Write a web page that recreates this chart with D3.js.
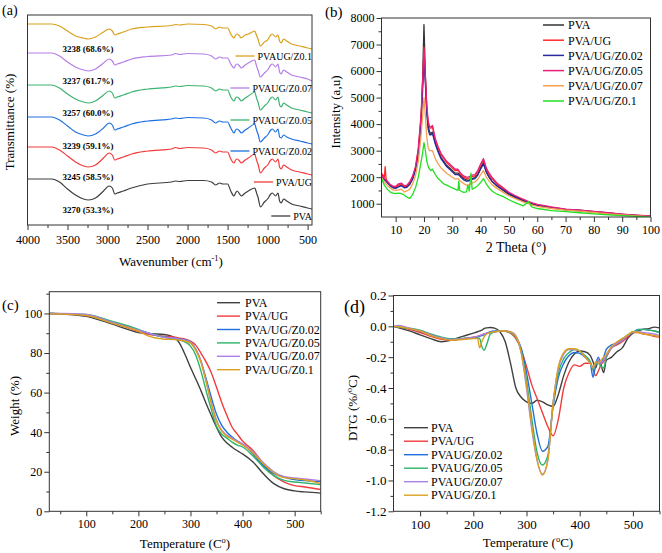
<!DOCTYPE html>
<html><head><meta charset="utf-8">
<script src="https://cdn.jsdelivr.net/npm/d3@7"></script>
<style>
body{margin:0;background:#fff;}
svg text{font-family:"Liberation Serif","Times New Roman",serif;}
</style></head><body>
<svg id="c" width="662" height="553" xmlns="http://www.w3.org/2000/svg"></svg>
<script>
// ---------- Panel (a): FTIR ----------
const ftirNames = ["PVA", "PVA/UG", "PVAUG/Z0.02", "PVAUG/Z0.05", "PVAUG/Z0.07", "PVAUG/Z0.1"];
const ftirPeakLabels = ["3270 (53.3%)", "3245 (58.5%)", "3239 (59.1%)", "3257 (60.0%)", "3237 (61.7%)", "3238 (68.6%)"];
const ftirOffsets = [46, 78, 108, 140, 172, 201];
const waveA = [4000, 3700, 3600, 3500, 3400, 3300, 3240, 3150, 3050, 2980, 2940, 2910, 2880, 2800, 2700, 2500, 2200, 2150, 2100, 2000, 1800, 1700, 1650, 1600, 1560, 1500, 1460, 1420, 1400, 1380, 1350, 1330, 1280, 1240, 1160, 1145, 1130, 1120, 1090, 1040, 1000, 960, 940, 900, 870, 850, 830, 800, 760, 700, 600, 500, 445];
const ftirPVA = [0, 0, -3, -10, -16, -20, -21, -19, -12, -7, -9, -15, -14, -12, -9, -5, -3, -2, -2.5, -1.5, -1.5, -3, -6, -4, -5, -5, -12, -17, -14, -12, -15, -17, -14, -12, -9, -12, -16, -18, -28, -23, -20, -15, -14, -17, -14, -22, -24, -20, -22, -25, -27, -29, -30];
const ftirUG = [0, 0, -3, -9, -15, -19, -20, -18, -11, -6, -8, -13, -12, -10, -7, -4, -2, -0.5, -1.5, -0.5, -1, -3, -6, -4, -5, -5, -12, -16, -13, -12, -14, -16, -13, -11, -7, -11, -15, -17, -26, -21, -18, -13, -12, -15, -12, -20, -22, -18, -20, -23, -25, -27, -28];
const ftirZ002 = [0, 0, -3, -9, -15, -18, -19, -17, -11, -6, -8, -13, -12, -10, -7, -4, -2, -1, -1.5, -0.5, -1, -3, -6, -4, -5, -5, -11, -16, -13, -12, -14, -16, -13, -11, -7, -11, -15, -17, -25, -21, -18, -13, -12, -15, -12, -20, -21, -18, -20, -22, -24, -26, -27];
const ftirZ005 = [0, 0, -3, -9, -14, -17, -18, -16, -10, -6, -8, -13, -12, -10, -7, -4, -2, -1, -1.5, -0.5, -1, -3, -6, -4, -5, -5, -12, -16, -13, -12, -14, -16, -13, -11, -7, -11, -15, -17, -25, -21, -18, -13, -12, -15, -12, -20, -22, -18, -20, -23, -25, -27, -28];
const ftirZ007 = [0, 0, -3, -9, -14, -17, -18, -16, -10, -6, -8, -12, -11, -9, -6, -3.5, -2, -0.5, -1.5, -0.5, -1, -3, -6, -4, -5, -5, -11, -15, -12, -11, -13, -15, -12, -10, -7, -11, -15, -17, -24, -20, -17, -12, -11, -14, -11, -19, -21, -17, -19, -22, -24, -26, -28];
const ftirZ01 = [0, 0, -2, -7, -12, -14, -15, -13, -8, -5, -7, -11, -10, -8, -5, -3, -1.5, -0.5, -1, 0, -0.5, -2, -5, -3, -4, -4, -10, -14, -11, -10, -12, -14, -11, -10, -7, -10, -13, -15, -22, -18, -16, -11, -10, -13, -11, -17, -19, -15, -17, -20, -22, -24, -25];
const ftirTicks = [4000, 3500, 3000, 2500, 2000, 1500, 1000, 500];

// ---------- Panel (b): XRD ----------
const xrdNames = ["PVA", "PVA/UG", "PVA/UG/Z0.02", "PVA/UG/Z0.05", "PVA/UG/Z0.07", "PVA/UG/Z0.1"];
const theta = [5, 6, 6.3, 6.6, 7, 8, 9, 10, 11, 12, 13, 14, 15, 16, 17, 18, 19, 19.5, 20, 20.5, 21, 21.5, 22, 22.5, 23, 23.5, 24, 25, 26, 27, 28, 30, 31, 32, 32.3, 32.6, 33, 34, 35, 35.5, 36, 36.6, 37, 38, 39, 40, 41, 42, 43, 44, 46, 48, 50, 52, 55, 57, 58, 60, 65, 70, 75, 80, 85, 90, 95, 100];
const xrdPVA = [2100, 1950, 1900, 1880, 1820, 1700, 1620, 1600, 1650, 1700, 1620, 1650, 1750, 1950, 2300, 2900, 4200, 5600, 7750, 5800, 4500, 3900, 3700, 3650, 3700, 3500, 3300, 3000, 2750, 2600, 2450, 2250, 2150, 2150, 2120, 2080, 2050, 1950, 1900, 1880, 1900, 1920, 1950, 1980, 2100, 2350, 2550, 2200, 2000, 1850, 1650, 1500, 1350, 1250, 1100, 1020, 990, 930, 840, 770, 730, 680, 630, 590, 550, 520];
const xrdUG = [2150, 2000, 2400, 1950, 1850, 1720, 1650, 1630, 1700, 1750, 1650, 1680, 1800, 2000, 2350, 3000, 4300, 5500, 6900, 5700, 4600, 4000, 3850, 3850, 3900, 3650, 3400, 3100, 2850, 2700, 2550, 2350, 2250, 2250, 2220, 2150, 2100, 2000, 1950, 1950, 1970, 2000, 2020, 2050, 2200, 2450, 2650, 2300, 2100, 1950, 1720, 1560, 1400, 1300, 1150, 1060, 1020, 960, 860, 790, 750, 700, 650, 600, 560, 530];
const xrdZ002 = [2050, 1900, 1870, 1850, 1800, 1680, 1600, 1580, 1630, 1680, 1600, 1620, 1730, 1930, 2280, 2900, 4100, 5200, 6500, 5500, 4400, 3800, 3600, 3600, 3650, 3450, 3250, 2950, 2700, 2550, 2400, 2200, 2100, 2100, 2080, 2050, 2000, 1900, 1850, 1850, 1870, 1900, 1920, 1950, 2080, 2300, 2500, 2200, 2000, 1850, 1660, 1520, 1380, 1280, 1130, 1050, 1010, 950, 860, 790, 760, 700, 650, 600, 560, 530];
const xrdZ005 = [2100, 1950, 1920, 1900, 1850, 1730, 1660, 1650, 1750, 1780, 1680, 1700, 1830, 2050, 2400, 3100, 4400, 5600, 6800, 5800, 4700, 4100, 3900, 3900, 3950, 3700, 3450, 3150, 2900, 2750, 2600, 2400, 2300, 2300, 2250, 2200, 2150, 2050, 2000, 2000, 2020, 2050, 2080, 2100, 2250, 2500, 2700, 2350, 2150, 2000, 1760, 1600, 1430, 1320, 1170, 1080, 1040, 980, 880, 800, 760, 710, 660, 610, 570, 540];
const xrdZ007 = [2000, 1800, 1780, 1750, 1700, 1600, 1520, 1500, 1520, 1550, 1450, 1480, 1550, 1750, 2050, 2600, 3600, 4300, 5000, 4300, 3500, 3100, 3000, 3000, 3000, 2850, 2700, 2500, 2350, 2250, 2150, 2000, 1930, 1950, 1920, 1880, 1850, 1760, 1700, 1700, 1720, 1750, 1780, 1820, 1920, 2100, 2250, 2000, 1850, 1720, 1560, 1430, 1300, 1200, 1070, 1000, 960, 900, 820, 760, 720, 670, 620, 580, 540, 510];
const xrdZ01 = [1950, 1700, 1650, 1620, 1550, 1450, 1400, 1380, 1400, 1380, 1330, 1250, 1200, 1350, 1600, 2000, 2600, 2900, 3300, 3000, 2600, 2400, 2300, 2250, 2300, 2200, 2100, 1950, 1850, 1750, 1700, 1600, 1550, 1500, 1850, 1500, 1480, 1430, 1450, 1700, 1480, 2150, 1550, 1600, 1680, 1800, 1950, 1750, 1600, 1480, 1350, 1270, 1150, 1050, 920, 1080, 880, 820, 740, 700, 660, 620, 580, 550, 520, 500];
const xrdXTicks = [10, 20, 30, 40, 50, 60, 70, 80, 90, 100];
const xrdYTicks = [1000, 2000, 3000, 4000, 5000, 6000, 7000, 8000];

// ---------- Panel (c): TGA ----------
const tgaNames = ["PVA", "PVA/UG", "PVA/UG/Z0.02", "PVA/UG/Z0.05", "PVA/UG/Z0.07", "PVA/UG/Z0.1"];
const tgaT = [30, 50, 100, 150, 200, 220, 250, 270, 280, 290, 300, 310, 320, 330, 340, 350, 360, 370, 380, 390, 400, 420, 440, 460, 480, 500, 520, 550];
const tgaPVA = [100, 99.8, 98.5, 94.6, 90.4, 89.8, 89.4, 87.8, 84.5, 79, 72.8, 67, 61, 54.5, 48.4, 42.5, 37.5, 34.5, 32.4, 30.6, 29, 24.9, 19, 14, 11.4, 10.3, 9.8, 9.2];
const tgaUG = [100, 99.9, 99, 95.5, 91, 89.5, 88.5, 88, 87.5, 87, 86, 84, 80, 75.5, 70, 62.7, 55, 48.4, 42.5, 39, 35.5, 30.8, 24, 18, 14.8, 13, 12.3, 11];
const tgaZ002 = [100, 99.9, 99, 95.5, 91.5, 90, 88, 87.5, 87, 86.8, 85.5, 82, 76, 67, 57.6, 49, 43.4, 40, 37.5, 35.5, 34, 29, 23, 19, 17.3, 16, 15.5, 15];
const tgaZ005 = [100, 99.9, 99.5, 96, 92, 90, 88, 87, 86.5, 85.5, 83.5, 79, 71, 61, 51.5, 43, 39, 37, 35, 33.5, 32.5, 28, 22.3, 18, 15.6, 14.8, 14.3, 13.5];
const tgaZ007 = [100, 100, 99.5, 95.5, 91.5, 90, 88, 87.5, 87, 86.5, 85.5, 82, 76, 66, 55, 46, 41, 38.5, 37, 35.5, 34, 30, 24.5, 20, 17.5, 16.8, 16.3, 15.5];
const tgaZ01 = [99.8, 99.7, 99, 95, 91, 88.5, 87, 86.8, 86.5, 86, 85, 81.5, 75.5, 65.5, 54.5, 45.5, 40.5, 38, 36.5, 35, 33.5, 29.5, 24, 19.5, 17, 16.5, 15.8, 14];
const tgaXTicks = [100, 200, 300, 400, 500];
const tgaYTicks = [0, 20, 40, 60, 80, 100];

// ---------- Panel (d): DTG ----------
const dtgNames = ["PVA", "PVA/UG", "PVAUG/Z0.02", "PVAUG/Z0.05", "PVAUG/Z0.07", "PVAUG/Z0.1"];
const dtgT = [50, 60, 80, 100, 120, 140, 160, 180, 200, 208, 212, 216, 220, 225, 232, 240, 250, 260, 270, 280, 290, 300, 310, 320, 330, 340, 350, 360, 370, 380, 390, 400, 410, 420, 425, 430, 435, 440, 445, 450, 460, 470, 480, 490, 500, 510, 520, 530, 540, 550];
const dtgPVA = [0, -0.01, -0.03, -0.055, -0.08, -0.1, -0.088, -0.065, -0.044, -0.035, -0.03, -0.025, -0.015, -0.01, -0.008, -0.012, -0.035, -0.1, -0.24, -0.4, -0.46, -0.49, -0.5, -0.48, -0.49, -0.51, -0.52, -0.44, -0.32, -0.23, -0.18, -0.16, -0.165, -0.19, -0.23, -0.27, -0.22, -0.25, -0.3, -0.22, -0.2, -0.165, -0.14, -0.08, -0.044, -0.03, -0.018, -0.015, -0.005, -0.01];
const dtgUG = [0, -0.005, -0.02, -0.04, -0.065, -0.085, -0.09, -0.08, -0.07, -0.065, -0.06, -0.055, -0.05, -0.045, -0.04, -0.035, -0.03, -0.032, -0.045, -0.08, -0.15, -0.26, -0.38, -0.47, -0.56, -0.65, -0.71, -0.6, -0.4, -0.3, -0.25, -0.26, -0.24, -0.24, -0.28, -0.32, -0.29, -0.25, -0.23, -0.2, -0.14, -0.12, -0.1, -0.07, -0.04, -0.04, -0.05, -0.055, -0.065, -0.07];
const dtgZ002 = [0, -0.005, -0.015, -0.03, -0.055, -0.075, -0.085, -0.08, -0.075, -0.07, -0.065, -0.06, -0.055, -0.045, -0.035, -0.03, -0.028, -0.03, -0.04, -0.07, -0.14, -0.3, -0.5, -0.7, -0.81, -0.78, -0.52, -0.33, -0.24, -0.19, -0.17, -0.175, -0.2, -0.24, -0.33, -0.25, -0.2, -0.24, -0.2, -0.15, -0.12, -0.11, -0.09, -0.06, -0.04, -0.02, -0.02, -0.025, -0.03, -0.04];
const dtgZ005 = [0, -0.005, -0.012, -0.025, -0.05, -0.07, -0.08, -0.078, -0.075, -0.075, -0.08, -0.13, -0.155, -0.12, -0.05, -0.035, -0.03, -0.033, -0.04, -0.07, -0.16, -0.35, -0.6, -0.82, -0.9, -0.84, -0.5, -0.3, -0.21, -0.17, -0.15, -0.16, -0.19, -0.23, -0.28, -0.25, -0.24, -0.26, -0.27, -0.2, -0.14, -0.11, -0.08, -0.06, -0.04, -0.022, -0.02, -0.025, -0.03, -0.04];
const dtgZ007 = [0, 0.005, -0.012, -0.03, -0.055, -0.075, -0.085, -0.08, -0.07, -0.065, -0.06, -0.055, -0.05, -0.045, -0.04, -0.035, -0.03, -0.03, -0.035, -0.06, -0.17, -0.4, -0.67, -0.87, -0.96, -0.87, -0.5, -0.27, -0.18, -0.15, -0.15, -0.16, -0.2, -0.24, -0.27, -0.24, -0.22, -0.24, -0.22, -0.19, -0.14, -0.11, -0.09, -0.06, -0.035, -0.035, -0.04, -0.045, -0.05, -0.06];
const dtgZ01 = [0, -0.003, -0.015, -0.03, -0.06, -0.08, -0.09, -0.085, -0.08, -0.078, -0.14, -0.1, -0.07, -0.05, -0.04, -0.035, -0.03, -0.03, -0.038, -0.065, -0.17, -0.38, -0.65, -0.87, -0.965, -0.87, -0.5, -0.26, -0.17, -0.145, -0.145, -0.16, -0.2, -0.24, -0.27, -0.23, -0.24, -0.22, -0.2, -0.18, -0.13, -0.1, -0.08, -0.055, -0.035, -0.04, -0.05, -0.055, -0.06, -0.065];
const dtgXTicks = [100, 200, 300, 400, 500];
const dtgYTicks = [-1.2, -1.0, -0.8, -0.6, -0.4, -0.2, 0.0, 0.2];

// ---------- colours ----------
const colA = ["#3e3e3e", "#f23c3c", "#1e6fe0", "#3cb371", "#b57ee6", "#d8a21c"];
const colB = ["#333333", "#ff2a2a", "#2a2a9a", "#e8207a", "#f5a050", "#22e022"];
const colC = ["#404040", "#f03c3c", "#1f6fdc", "#2db36a", "#b07fe6", "#daa01e"];

const FONT = "Liberation Serif";
const svg = d3.select("#c");

function addAxis(g, scale, orient, pos, major, minor, fmt, fs, pad) {
  const mk = orient === "bottom" ? d3.axisBottom : d3.axisLeft;
  const tr = orient === "bottom" ? `translate(0,${pos})` : `translate(${pos},0)`;
  const a = g.append("g").attr("transform", tr)
    .call(mk(scale).tickValues(major).tickSize(5).tickSizeOuter(0).tickPadding(pad).tickFormat(fmt));
  a.attr("font-family", null).attr("font-size", null);
  a.select(".domain").remove();
  a.selectAll("text").style("font-family", FONT).style("font-size", fs + "px").attr("fill", "#000");
  a.selectAll("line").attr("stroke", "#333");
  if (minor) {
    const b = g.append("g").attr("transform", tr)
      .call(mk(scale).tickValues(minor).tickSize(3).tickSizeOuter(0).tickFormat(() => ""));
    b.select(".domain").remove();
    b.selectAll("line").attr("stroke", "#333");
  }
}
function frame(g, x, y, id) {
  const [x0, x1] = x.range(), [y1, y0] = y.range();
  g.append("clipPath").attr("id", id).append("rect")
    .attr("x", Math.min(x0, x1)).attr("y", y0).attr("width", Math.abs(x1 - x0)).attr("height", y1 - y0);
  return () => g.append("rect").attr("x", Math.min(x0, x1)).attr("y", y0)
    .attr("width", Math.abs(x1 - x0)).attr("height", y1 - y0)
    .attr("fill", "none").attr("stroke", "#333").attr("stroke-width", 1);
}
function txt(g, x, y, s, fs, anchor, extra) {
  const t = g.append("text").attr("x", x).attr("y", y).style("font-family", FONT)
    .style("font-size", fs + "px").attr("text-anchor", anchor || "start").attr("fill", "#000").text(s);
  if (extra) extra(t);
  return t;
}
function supText(g, x, y, parts, fs, rotate) {
  const t = g.append("text").style("font-family", FONT).style("font-size", fs + "px")
    .attr("text-anchor", "middle").attr("fill", "#000");
  if (rotate) t.attr("transform", `translate(${x},${y}) rotate(-90)`);
  else t.attr("x", x).attr("y", y);
  parts.forEach(p => {
    const s = t.append("tspan").text(p[0]);
    if (p[1]) s.style("font-size", (fs * 0.65) + "px").attr("dy", -fs * 0.4);
    else if (p[2]) s.attr("dy", fs * 0.4);
  });
  return t;
}

// ================= Panel (a) =================
{
  const g = svg.append("g");
  const x = d3.scaleLinear().domain([4000, 445]).range([27.5, 312]);
  const y = d3.scaleLinear().domain([0, 210]).range([225, 15]);
  const drawFrame = frame(g, x, y, "clipA");
  const series = [ftirPVA, ftirUG, ftirZ002, ftirZ005, ftirZ007, ftirZ01];
  const line = d3.line().curve(d3.curveMonotoneX);
  series.forEach((s, i) => {
    const pts = waveA.map((w, k) => [x(w), y(ftirOffsets[i] + s[k])]);
    g.append("path").attr("d", line(pts)).attr("fill", "none").attr("stroke", colA[i])
      .attr("stroke-width", 1.2).attr("clip-path", "url(#clipA)");
    txt(g, x(3245), y(ftirOffsets[i] + s[6]) + 13, ftirPeakLabels[i], 9, "middle", t => t.attr("font-weight", "bold"));
    const ly = y(ftirOffsets[i] + s[s.length - 1]) + 7;
    const tt = txt(g, 312, ly + 3.5, ftirNames[i], 10, "end");
    const w = tt.node().getComputedTextLength();
    g.append("line").attr("x1", 312 - w - 22).attr("x2", 312 - w - 3).attr("y1", ly).attr("y2", ly)
      .attr("stroke", colA[i]).attr("stroke-width", 1.3);
  });
  drawFrame();
  addAxis(g, x, "bottom", 225, ftirTicks, [3750, 3250, 2750, 2250, 1750, 1250, 750], d => d, 12, 5);
  supText(g, 171, 266, [["Wavenumber (cm"], ["-1", true], [")", false, true]], 13);
  supText(g, 14, 122, [["Transmittance (%)"]], 13, true);
  txt(g, 2, 15, "(a)", 14);
}

// ================= Panel (b) =================
{
  const g = svg.append("g");
  const x = d3.scaleLinear().domain([5, 100]).range([381.5, 650.5]);
  const y = d3.scaleLinear().domain([500, 8000]).range([217, 18]);
  const drawFrame = frame(g, x, y, "clipB");
  const series = [xrdPVA, xrdUG, xrdZ002, xrdZ005, xrdZ007, xrdZ01];
  const line = d3.line();
  series.forEach((s, i) => {
    const pts = theta.map((t, k) => [x(t), y(s[k])]);
    g.append("path").attr("d", line(pts)).attr("fill", "none").attr("stroke", colB[i])
      .attr("stroke-width", 1.3).attr("stroke-linejoin", "round").attr("clip-path", "url(#clipB)");
    const ly = 25 + i * 15.2;
    g.append("line").attr("x1", 543).attr("x2", 564).attr("y1", ly).attr("y2", ly)
      .attr("stroke", colB[i]).attr("stroke-width", 1.5);
    txt(g, 568, ly + 4.3, xrdNames[i], 12);
  });
  drawFrame();
  addAxis(g, x, "bottom", 217, xrdXTicks, [15, 25, 35, 45, 55, 65, 75, 85, 95], d => d, 12, 3);
  addAxis(g, y, "left", 381.5, xrdYTicks, [1500, 2500, 3500, 4500, 5500, 6500, 7500], d => d, 12, 2);
  supText(g, 516, 252, [["2 Theta (°)"]], 14);
  supText(g, 340, 112, [["Intensity (a,u)"]], 13, true);
  txt(g, 325, 17, "(b)", 15);
}

// ================= Panel (c) =================
{
  const g = svg.append("g");
  const x = d3.scaleLinear().domain([29, 550]).range([49.3, 320.7]);
  const y = d3.scaleLinear().domain([0, 111]).range([511.3, 291.7]);
  const drawFrame = frame(g, x, y, "clipC");
  const series = [tgaPVA, tgaUG, tgaZ002, tgaZ005, tgaZ007, tgaZ01];
  const line = d3.line().curve(d3.curveMonotoneX);
  series.forEach((s, i) => {
    const pts = tgaT.map((t, k) => [x(t), y(s[k])]);
    g.append("path").attr("d", line(pts)).attr("fill", "none").attr("stroke", colC[i])
      .attr("stroke-width", 1.4).attr("clip-path", "url(#clipC)");
    const ly = 302.7 + i * 13.4;
    g.append("line").attr("x1", 217).attr("x2", 240).attr("y1", ly).attr("y2", ly)
      .attr("stroke", colC[i]).attr("stroke-width", 1.4);
    txt(g, 245, ly + 4, tgaNames[i], 12);
  });
  drawFrame();
  addAxis(g, x, "bottom", 511.3, tgaXTicks, [50, 150, 250, 350, 450, 550], d => d, 12, 3);
  addAxis(g, y, "left", 49.3, tgaYTicks, [10, 30, 50, 70, 90, 110], d => d, 12, 2);
  supText(g, 185, 548, [["Temperature (C"], ["o", true], [")", false, true]], 13);
  supText(g, 19, 406, [["Weight (%)"]], 13, true);
  txt(g, 2, 310, "(c)", 15);
}

// ================= Panel (d) =================
{
  const g = svg.append("g");
  const x = d3.scaleLinear().domain([50, 550]).range([393.5, 659.5]);
  const y = d3.scaleLinear().domain([-1.2, 0.2]).range([511.3, 295.5]);
  const drawFrame = frame(g, x, y, "clipD");
  const series = [dtgPVA, dtgUG, dtgZ002, dtgZ005, dtgZ007, dtgZ01];
  const line = d3.line().curve(d3.curveMonotoneX);
  series.forEach((s, i) => {
    const pts = dtgT.map((t, k) => [x(t), y(s[k])]);
    g.append("path").attr("d", line(pts)).attr("fill", "none").attr("stroke", colC[i])
      .attr("stroke-width", 1.4).attr("clip-path", "url(#clipD)");
    const ly = 427.7 + i * 13.5;
    g.append("line").attr("x1", 404).attr("x2", 428).attr("y1", ly).attr("y2", ly)
      .attr("stroke", colC[i]).attr("stroke-width", 1.4);
    txt(g, 431, ly + 4, dtgNames[i], 12);
  });
  drawFrame();
  addAxis(g, x, "bottom", 511.3, dtgXTicks, [150, 250, 350, 450, 550], d => d, 13, 3);
  addAxis(g, y, "left", 393.5, dtgYTicks, [-1.1, -0.9, -0.7, -0.5, -0.3, -0.1, 0.1], d => d.toFixed(1), 13, 2);
  supText(g, 528, 547, [["Temperature ("], ["o", true], ["C)", false, true]], 13);
  supText(g, 357, 408, [["DTG (%/"], ["o", true], ["C)", false, true]], 13, true);
  txt(g, 344, 313, "(d)", 18);
}
</script>
</body></html>
